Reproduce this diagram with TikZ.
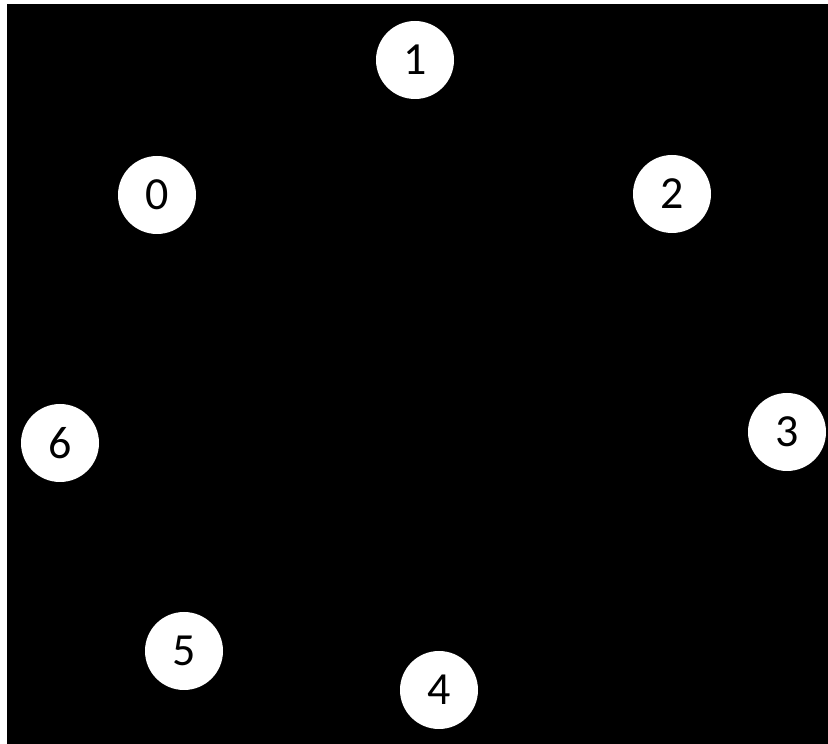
\documentclass[tikz,border=0pt]{standalone}
\usepackage{fontspec}
\setmainfont{Carlito}
\begin{document}
\begin{tikzpicture}[x=1pt,y=1pt,
  vert/.style={circle, fill=white, draw=none, minimum size=78pt, inner sep=0pt,
    font=\fontsize{46}{50}\selectfont, text=black}]
\useasboundingbox (0,0) rectangle (828,744);
\fill[white] (0,0) rectangle (828,744);
\fill[black] (7,0) rectangle (828,740);
\node[vert] (n1) at (415,684) {1};
\node[vert] (n0) at (157,549) {0};
\node[vert] (n2) at (672,550) {2};
\node[vert] (n3) at (787,312) {3};
\node[vert] (n6) at (60,301) {6};
\node[vert] (n5) at (184,93) {5};
\node[vert] (n4) at (439,54) {4};
\end{tikzpicture}
\end{document}
